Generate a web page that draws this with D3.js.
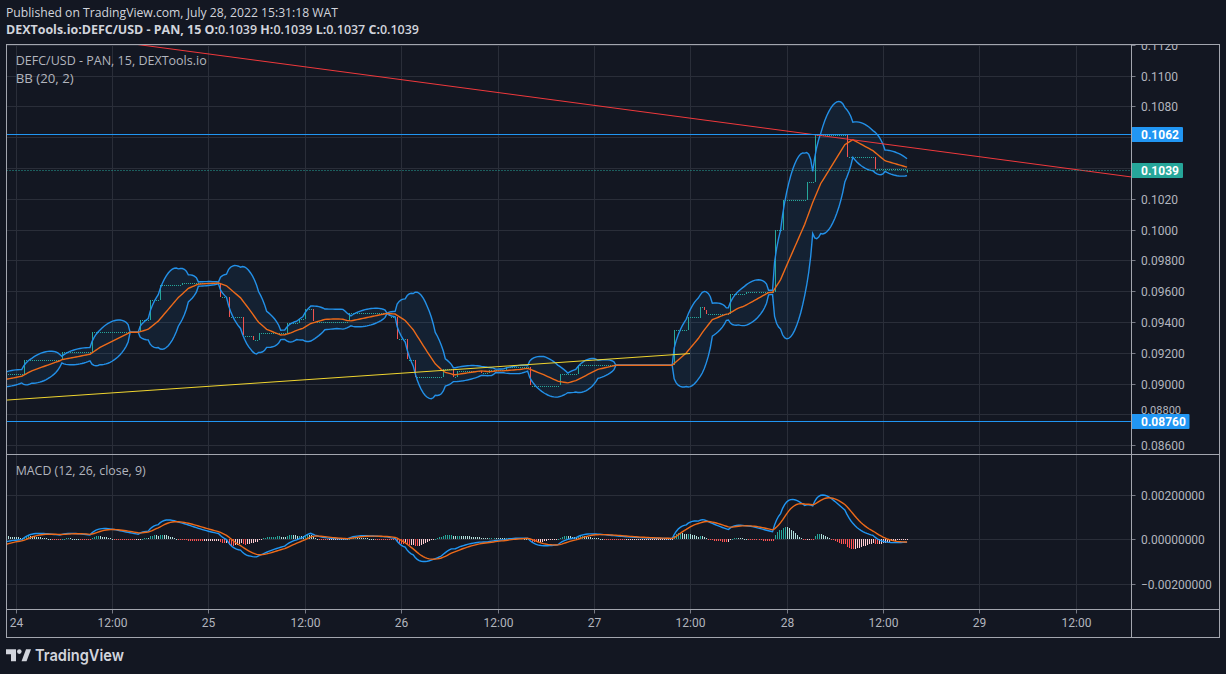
<!DOCTYPE html>
<html><head><meta charset="utf-8">
<script src="https://cdn.jsdelivr.net/npm/d3@7"></script>
<style>html,body{margin:0;padding:0;background:#131722;}svg{display:block}</style>
</head><body>
<svg id="chart" width="1226" height="674"></svg>
<script>
// ---------------- DATA ----------------
// Price levels of the 15-minute candles: each level starts at the given hour
// (hours after 2022-07-24 00:00) and lasts until the next one.
// The first four levels lie left of the visible range (indicator warm-up).
const stepHours  = [-40, -12, -7, -2.75, 1.0, 5.75, 9.5, 15.5, 16.75, 18, 20.75, 25.5, 26.5, 28.25, 29.5, 30.25,
  33.75, 35.25, 36, 37, 41.5, 46.5, 47.5, 48.75, 49.75, 53.25, 54.5, 55, 58, 59, 61, 64, 67.75, 70,
  82, 83.75, 85.25, 85.75, 86, 89, 91, 94.5, 95.5, 98.5, 99.5, 103.5, 107];
const stepPrices = [0.0935, 0.0915, 0.0901, 0.0906, 0.09153, 0.09203, 0.09333, 0.09413, 0.09543, 0.09640, 0.09654,
  0.09560, 0.09430, 0.09311, 0.09283, 0.09326, 0.09391, 0.09417, 0.09482, 0.09402, 0.09456, 0.09434,
  0.09289, 0.09156, 0.09045, 0.09097, 0.09043, 0.09084, 0.09071, 0.09088, 0.09106, 0.08986, 0.09060,
  0.09119, 0.09348, 0.09430, 0.09500, 0.09478, 0.09452, 0.09582, 0.09597, 0.09997, 0.10192, 0.10309,
  0.10612, 0.10470, 0.10394];
const lastHour = 111;                       // last candle: 28 Jul 15:00
const lastOHLC = [0.1039, 0.1039, 0.1037, 0.1039];

const redTrend    = [[14.6, 0.11206], [138.9, 0.10342]];   // [hour, price]
const yellowTrend = [[-1.12, 0.08893], [83.97, 0.09195]];
const blueLevels  = [0.1062, 0.0876];
const blueLabels  = ["0.1062", "0.08760"];
const lastPrice = 0.1039, lastPriceLabel = "0.1039";

const priceTicks  = [0.086, 0.088, 0.090, 0.092, 0.094, 0.096, 0.098, 0.100, 0.102, 0.104, 0.106, 0.108, 0.110, 0.112];
const priceTickLabels = ["0.08600","0.08800","0.09000","0.09200","0.09400","0.09600","0.09800","0.1000","0.1020","0.1040","0.1060","0.1080","0.1100","0.1120"];
const macdTicks = [-0.002, 0, 0.002];
const macdTickLabels = ["\u22120.00200000", "0.00000000", "0.00200000"];
const timeTickHours  = [0, 12, 24, 36, 48, 60, 72, 84, 96, 108, 120, 132];
const timeTickLabels = ["24","12:00","25","12:00","26","12:00","27","12:00","28","12:00","29","12:00"];

// ---------------- SETUP ----------------
const T0 = Date.UTC(2022, 6, 24, 0, 0);
const toDate = h => new Date(T0 + h * 3600e3);
const svg = d3.select("#chart");
const W = 1226, H = 674;
const L = 6.5, R = 1131.5, RO = 1219.5, TOP = 44.5, SEP = 454.5, MB = 609.5, BOT = 637.5;

const x = d3.scaleUtc().domain([toDate(0), toDate(132)]).range([15.7, 1075.7]);
const y = d3.scaleLinear().domain([0.100, 0.086]).range([229.6, 445.2]);
const ym = d3.scaleLinear().domain([-0.002, 0.002]).range([583.5, 494.5]);

svg.append("rect").attr("width", W).attr("height", H).attr("fill", "#131722");

const defs = svg.append("defs");
defs.append("clipPath").attr("id", "cMain").append("rect").attr("x", L).attr("y", TOP).attr("width", R - L).attr("height", SEP - TOP);
defs.append("clipPath").attr("id", "cMacd").append("rect").attr("x", L).attr("y", SEP).attr("width", R - L).attr("height", MB - SEP);
defs.append("clipPath").attr("id", "cAxMain").append("rect").attr("x", R).attr("y", TOP).attr("width", RO - R).attr("height", SEP - TOP);

// ---------------- CANDLES + INDICATORS ----------------
const candles = [];
{
  let si = 0, prev = stepPrices[0];
  for (let h = stepHours[0]; h <= lastHour + 1e-9; h += 0.25) {
    while (si + 1 < stepHours.length && stepHours[si + 1] <= h + 1e-9) si++;
    const c = stepPrices[si];
    candles.push({ h, o: prev, hi: Math.max(prev, c), lo: Math.min(prev, c), c });
    prev = c;
  }
  const last = candles[candles.length - 1];
  [last.o, last.hi, last.lo, last.c] = lastOHLC;
}
const closes = candles.map(d => d.c);

// Bollinger Bands (20, 2)
const bb = candles.map((d, i) => {
  if (i < 19) return null;
  const w = closes.slice(i - 19, i + 1);
  const m = d3.mean(w);
  const sd = Math.sqrt(d3.mean(w, v => (v - m) * (v - m)));
  return { h: d.h, m, up: m + 2 * sd, lo: m - 2 * sd };
}).filter(Boolean);

// MACD (12, 26, close, 9)
function ema(arr, n) { const a = 2 / (n + 1); const out = []; arr.forEach((v, i) => out.push(i ? a * v + (1 - a) * out[i - 1] : v)); return out; }
const e12 = ema(closes, 12), e26 = ema(closes, 26);
const macd = closes.map((_, i) => e12[i] - e26[i]);
const sig = ema(macd, 9);
const macdData = candles.map((d, i) => ({ h: d.h, m: macd[i], s: sig[i], hist: macd[i] - sig[i], prev: i ? macd[i - 1] - sig[i - 1] : 0 }));

// ---------------- GRID ----------------
const grid = svg.append("g").attr("stroke", "#2a2e39").attr("stroke-width", 1);
timeTickHours.forEach(h => {
  const xx = Math.round(x(toDate(h))) + 0.5;
  grid.append("line").attr("x1", xx).attr("x2", xx).attr("y1", TOP).attr("y2", MB);
});
priceTicks.forEach(p => {
  const yy = Math.round(y(p)) + 0.5;
  if (yy > TOP && yy < SEP) grid.append("line").attr("x1", L).attr("x2", R).attr("y1", yy).attr("y2", yy);
});
macdTicks.forEach(p => {
  const yy = Math.round(ym(p)) + 0.5;
  grid.append("line").attr("x1", L).attr("x2", R).attr("y1", yy).attr("y2", yy);
});

// ---------------- MAIN PANE ----------------
const main = svg.append("g").attr("clip-path", "url(#cMain)");
main.append("path").datum(bb)
  .attr("d", d3.area().x(d => x(toDate(d.h))).y0(d => y(d.lo)).y1(d => y(d.up)))
  .attr("fill", "rgba(33,150,243,0.08)");

const cg = main.append("g");
candles.forEach(d => {
  const col = d.c >= d.o ? "#26a69a" : "#ef5350";
  const xx = Math.round(x(toDate(d.h)));
  const y1 = y(Math.max(d.o, d.c)), y2 = y(Math.min(d.o, d.c));
  cg.append("rect").attr("x", xx).attr("width", 1)
    .attr("y", Math.round(y1)).attr("height", Math.max(1, Math.round(y2 - y1)))
    .attr("fill", col);
  if (y(d.lo) - y2 > 0.5 || y1 - y(d.hi) > 0.5)
    cg.append("line").attr("x1", xx + 0.5).attr("x2", xx + 0.5).attr("y1", y(d.hi)).attr("y2", y(d.lo)).attr("stroke", col);
});

const lineBB = k => d3.line().x(d => x(toDate(d.h))).y(d => y(d[k]));
main.append("path").datum(bb).attr("d", lineBB("up")).attr("fill", "none").attr("stroke", "#2390e8").attr("stroke-width", 1.4);
main.append("path").datum(bb).attr("d", lineBB("lo")).attr("fill", "none").attr("stroke", "#2390e8").attr("stroke-width", 1.4);
main.append("path").datum(bb).attr("d", lineBB("m")).attr("fill", "none").attr("stroke", "#ec6a1a").attr("stroke-width", 1.4);

// drawings
const seg = pts => d3.line().x(d => x(toDate(d[0]))).y(d => y(d[1]))(pts);
main.append("path").attr("d", seg(yellowTrend)).attr("stroke", "#f0d530").attr("stroke-width", 1).attr("fill", "none");
main.append("path").attr("d", seg(redTrend)).attr("stroke", "#f0393c").attr("stroke-width", 1).attr("fill", "none");
blueLevels.forEach(p => {
  const yy = Math.round(y(p)) + 0.5;
  main.append("line").attr("x1", L).attr("x2", R).attr("y1", yy).attr("y2", yy).attr("stroke", "#2196f3").attr("stroke-width", 1);
});
{
  const yy = Math.round(y(lastPrice)) + 0.5;
  main.append("line").attr("x1", L).attr("x2", R).attr("y1", yy).attr("y2", yy)
    .attr("stroke", "#26a69a").attr("stroke-width", 1).attr("stroke-dasharray", "1,2");
}

// ---------------- MACD PANE ----------------
const mp = svg.append("g").attr("clip-path", "url(#cMacd)");
macdData.forEach(d => {
  const xx = Math.round(x(toDate(d.h)));
  const col = d.hist >= 0 ? (d.hist > d.prev ? "#26a69a" : "#b2dfdb") : (d.hist < d.prev ? "#ff5252" : "#ffcdd2");
  const y0 = ym(0), y1 = ym(d.hist);
  mp.append("rect").attr("x", xx).attr("width", 1)
    .attr("y", Math.round(Math.min(y0, y1))).attr("height", Math.max(1, Math.round(Math.abs(y1 - y0))))
    .attr("fill", col);
});
mp.append("path").datum(macdData).attr("d", d3.line().x(d => x(toDate(d.h))).y(d => ym(d.m)))
  .attr("fill", "none").attr("stroke", "#2196f3").attr("stroke-width", 1.4);
mp.append("path").datum(macdData).attr("d", d3.line().x(d => x(toDate(d.h))).y(d => ym(d.s)))
  .attr("fill", "none").attr("stroke", "#ec6a1a").attr("stroke-width", 1.4);

// ---------------- AXES ----------------
const axC = "#b2b5be";
const boxLevels = [blueLevels[0], lastPrice, blueLevels[1]];
const axMain = svg.append("g").attr("clip-path", "url(#cAxMain)");
priceTicks.forEach((p, i) => {
  const yy = Math.round(y(p)) + 0.5;
  axMain.append("line").attr("x1", R).attr("x2", R + 4).attr("y1", yy).attr("y2", yy).attr("stroke", "#787b86");
  // labels fully covered by a price box are hidden, as on the original
  const dmin = d3.min(boxLevels, q => Math.abs(y(q) - y(p)));
  if (dmin < 5) return;
  const t = axMain.append("text").attr("x", 1141).attr("y", yy + 4.2).text(priceTickLabels[i])
    .attr("fill", axC).attr("font-family", "Roboto, sans-serif").attr("font-size", 12);
  if (dmin < 15) t.attr("font-size", 11).attr("y", yy - 1);
});
macdTicks.forEach((p, i) => {
  const yy = Math.round(ym(p)) + 0.5;
  svg.append("line").attr("x1", R).attr("x2", R + 4).attr("y1", yy).attr("y2", yy).attr("stroke", "#787b86");
  svg.append("text").attr("x", 1141).attr("y", yy + 4.2).text(macdTickLabels[i])
    .attr("fill", axC).attr("font-family", "Roboto, sans-serif").attr("font-size", 12);
});
timeTickHours.forEach((h, i) => {
  const xx = Math.round(x(toDate(h))) + 0.5;
  svg.append("line").attr("x1", xx).attr("x2", xx).attr("y1", MB).attr("y2", MB + 4).attr("stroke", "#787b86");
  svg.append("text").attr("x", xx).attr("y", 626.5).attr("text-anchor", "middle").text(timeTickLabels[i])
    .attr("fill", axC).attr("font-family", "Roboto, sans-serif").attr("font-size", 12);
});

// price labels on axis
function axisLabel(p, txt, col, w) {
  const yy = Math.round(y(p)) + 0.5;
  svg.append("line").attr("x1", R).attr("x2", R + 4).attr("y1", yy).attr("y2", yy).attr("stroke", col);
  svg.append("rect").attr("x", R).attr("y", yy - 7.5).attr("width", w).attr("height", 15).attr("rx", 1).attr("fill", col);
  svg.append("text").attr("x", 1141).attr("y", yy + 4.3).text(txt).attr("fill", "#ffffff")
    .attr("font-family", "Roboto, sans-serif").attr("font-weight", "bold").attr("font-size", 12);
}
axisLabel(blueLevels[0], blueLabels[0], "#2196f3", 51.5);
axisLabel(lastPrice, lastPriceLabel, "#26a69a", 51.5);
axisLabel(blueLevels[1], blueLabels[1], "#2196f3", 58);

// ---------------- BORDERS ----------------
const bc = "#a3a6af";
const b = svg.append("g").attr("stroke", bc).attr("stroke-width", 1).attr("fill", "none");
b.append("rect").attr("x", L).attr("y", TOP).attr("width", RO - L).attr("height", BOT - TOP);
b.append("line").attr("x1", R).attr("x2", R).attr("y1", TOP).attr("y2", BOT);
b.append("line").attr("x1", L).attr("x2", RO).attr("y1", SEP).attr("y2", SEP);
b.append("line").attr("x1", L).attr("x2", RO).attr("y1", MB).attr("y2", MB);

// ---------------- TEXTS ----------------
svg.append("text").attr("x", 6).attr("y", 17).attr("fill", "#d1d4dc")
  .attr("font-family", "'Open Sans', sans-serif").attr("font-size", 12.5)
  .attr("textLength", 332).attr("lengthAdjust", "spacingAndGlyphs")
  .text("Published on TradingView.com, July 28, 2022 15:31:18 WAT");
{
  const t = svg.append("text").attr("x", 6).attr("y", 34).attr("fill", "#d1d4dc")
    .attr("font-family", "'Open Sans', sans-serif").attr("font-size", 12.5)
    .attr("textLength", 413).attr("lengthAdjust", "spacingAndGlyphs");
  const parts = [["DEXTools.io:DEFC/USD - PAN, 15 ", 700], [" O:", 700], ["0.1039", 600], [" H:", 700], ["0.1039", 600], [" L:", 700], ["0.1037", 600], [" C:", 700], ["0.1039", 600]];
  parts.forEach(p => t.append("tspan").attr("font-weight", p[1]).text(p[0]));
}
const leg = (txt, yy, w) => svg.append("text").attr("x", 15.7).attr("y", yy).attr("fill", "#b2b5be")
  .attr("font-family", "'Open Sans', sans-serif").attr("font-size", 13)
  .attr("textLength", w).attr("lengthAdjust", "spacingAndGlyphs").text(txt);
leg("DEFC/USD - PAN, 15, DEXTools.io", 65, 191);
leg("BB (20, 2)", 83, 58);
leg("MACD (12, 26, close, 9)", 475, 130);

// TradingView logo
const lg = svg.append("g").attr("fill", "#d1d4dc");
lg.append("path").attr("d", "M6,649.3 H16 V661.3 H11 V654.3 H6 Z");
lg.append("circle").attr("cx", 19.3).attr("cy", 651.6).attr("r", 2.3);
lg.append("path").attr("d", "M21.5,661.3 L26,649.3 H31 L26.5,661.3 Z");
lg.append("text").attr("x", 35).attr("y", 661.3).attr("font-family", "Inter, 'Open Sans', sans-serif")
  .attr("font-weight", 600).attr("font-size", 16.5).attr("textLength", 89).attr("lengthAdjust", "spacingAndGlyphs")
  .text("TradingView");
</script>
</body></html>
